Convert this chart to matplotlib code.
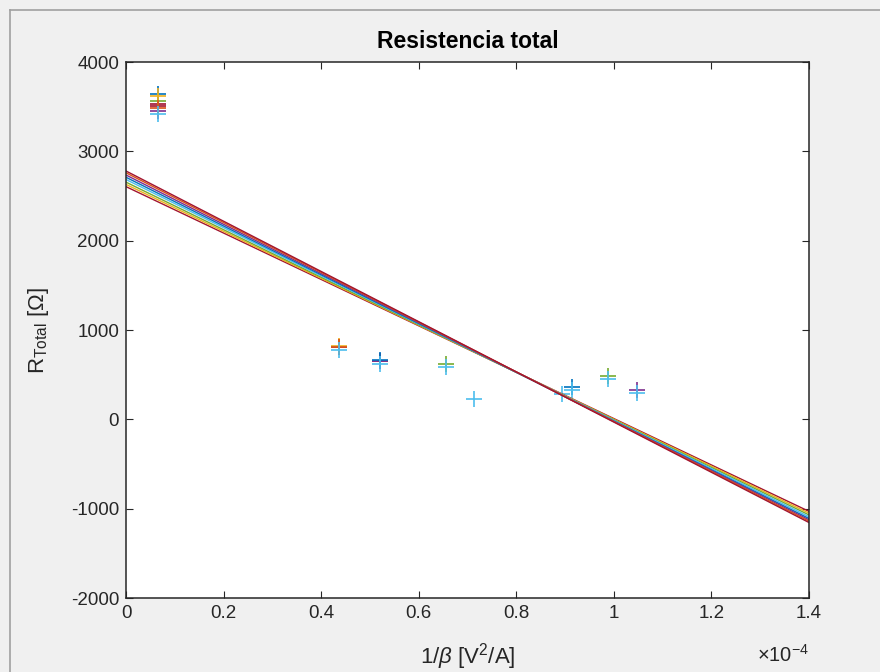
import matplotlib
matplotlib.use('Agg')
import matplotlib.pyplot as plt
import numpy as np
from matplotlib.lines import Line2D

plt.rcParams['font.family'] = ['Liberation Sans', 'DejaVu Sans']
plt.rcParams['mathtext.fontset'] = 'custom'
plt.rcParams['mathtext.rm'] = 'Liberation Sans'
plt.rcParams['mathtext.it'] = 'Liberation Sans:italic'
plt.rcParams['axes.unicode_minus'] = False

# MATLAB default colour order
c_blue = '#0072BD'
c_orange = '#D95319'
c_yellow = '#EDB120'
c_purple = '#7E2F8E'
c_green = '#77AC30'
c_lblue = '#4DBEEE'
c_red = '#A2142F'

# measured points, x in units of 1e-4 V^2/A, y in ohm
lblue_x = [0.065, 0.437, 0.521, 0.656, 0.714, 0.893, 0.915, 0.989, 1.047]
lblue_y = [3419, 775, 625, 590, 224, 280, 330, 455, 300]
blue_x = [0.065, 0.521, 0.915]
blue_y = [3647, 662, 365]
orange_x = [0.065, 0.437]
orange_y = [3483, 815]
yellow_x = [0.065, 0.437]
yellow_y = [3617, 822]
purple_x = [0.065, 0.521, 1.047]
purple_y = [3449, 650, 330]
green_x = [0.065, 0.656, 0.989]
green_y = [3561, 624, 488]
red_x = [0.065, 0.065, 0.437, 0.521]
red_y = [3531, 3505, 808, 656]

# drawing order: later ones on top
point_series = [
    (red_x, red_y, c_red),
    (purple_x, purple_y, c_purple),
    (blue_x, blue_y, c_blue),
    (green_x, green_y, c_green),
    (yellow_x, yellow_y, c_yellow),
    (orange_x, orange_y, c_orange),
    (lblue_x, lblue_y, c_lblue),
]

# fitted lines: value at x=0 and at x=1.4e-4
fit_colors = [c_red, c_yellow, c_green, c_lblue, c_blue, c_purple, c_orange, c_red]
fit_y0 = [2605, 2630, 2655, 2685, 2710, 2735, 2760, 2780]
fit_y1 = [-1030, -1050, -1070, -1090, -1110, -1125, -1140, -1155]
fit_xrange = [0, 1.4]

fig = plt.figure(figsize=(8.8, 6.72), dpi=100, facecolor='#F0F0F0')
ax = fig.add_axes([0.1432, 0.1101, 0.7761, 0.7976])
ax.set_facecolor('white')

for xs, ys, col in point_series:
    ax.plot(xs, ys, '+', color=col, markersize=11, markeredgewidth=1.2, linestyle='none')

for col, y0, y1 in zip(fit_colors, fit_y0, fit_y1):
    ax.plot(fit_xrange, [y0, y1], '-', color=col, linewidth=1.0)

ax.set_xlim(0, 1.4)
ax.set_ylim(-2000, 4000)
xt = np.arange(0, 1.41, 0.2)
ax.set_xticks(xt)
ax.set_xticklabels(['0', '0.2', '0.4', '0.6', '0.8', '1', '1.2', '1.4'])
ax.set_yticks(np.arange(-2000, 4001, 1000))

ax.tick_params(direction='in', top=True, right=True, length=5, width=0.8,
               colors='#262626', labelsize=13.5, pad=5)
for s in ax.spines.values():
    s.set_color('#262626')
    s.set_linewidth(1.1)

ax.set_title('Resistencia total', fontsize=16.5, fontweight='bold', color='black', pad=10)
ax.set_xlabel(r'1/$\it{\beta}$ [V$^2$/A]', fontsize=16, color='#262626', labelpad=14)
ax.set_ylabel(r'R$_{\rm Total}$ [$\Omega$]', fontsize=16, color='#262626', labelpad=14)
ax.text(1.0, -0.085, r'$\times$10$^{-4}$', transform=ax.transAxes, ha='right', va='top',
        fontsize=14.5, color='#262626')

# window frame
fig.add_artist(Line2D([10 / 880, 1], [1 - 10 / 672, 1 - 10 / 672], color='#A0A0A0', linewidth=1.2))
fig.add_artist(Line2D([10 / 880, 10 / 880], [0, 1 - 10 / 672], color='#A0A0A0', linewidth=1.2))

fig.savefig('out.png', dpi=100, facecolor=fig.get_facecolor())
